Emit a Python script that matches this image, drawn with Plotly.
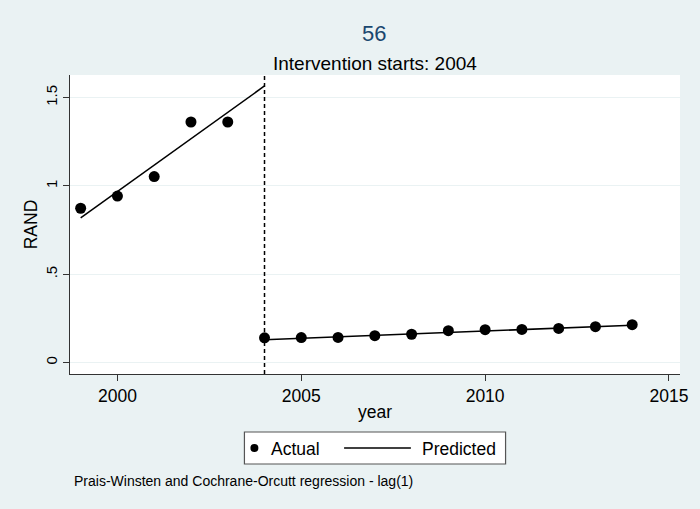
import plotly.graph_objects as go

pre_years = [1999, 2000, 2001, 2002, 2003]
pre_actual = [0.874, 0.943, 1.053, 1.362, 1.362]
post_years = [2004, 2005, 2006, 2007, 2008, 2009, 2010, 2011, 2012, 2013, 2014]
post_actual = [0.141, 0.142, 0.143, 0.153, 0.161, 0.181, 0.187, 0.188, 0.194, 0.204, 0.215]
pre_pred_years = [1999, 2004]
pre_pred = [0.82, 1.566]
post_pred_years = [2004, 2014]
post_pred = [0.130, 0.212]
intervention_year = 2004
y_ticks = [0, 0.5, 1, 1.5]
y_tick_labels = ["0", ".5", "1", "1.5"]
x_ticks = [2000, 2005, 2010, 2015]
legend_labels = ["Actual", "Predicted"]

FONT = "Liberation Sans, Arial, sans-serif"
BG = "#eaf2f3"
W, H = 700, 509
ML, MR, MT, MB = 70, 18, 75, 135
PW, PH = W - ML - MR, H - MT - MB


def px(xp, yp):
    """pixel position on the page -> paper coordinates"""
    return (xp - ML) / PW, (H - MB - yp) / PH


fig = go.Figure()
fig.add_trace(go.Scatter(x=pre_years + post_years, y=pre_actual + post_actual,
                         mode="markers", name=legend_labels[0],
                         marker=dict(color="black", size=11)))
fig.add_trace(go.Scatter(x=pre_pred_years, y=pre_pred, mode="lines", name=legend_labels[1],
                         line=dict(color="black", width=1.5)))
fig.add_trace(go.Scatter(x=post_pred_years, y=post_pred, mode="lines", name=legend_labels[1],
                         line=dict(color="black", width=1.5)))

fig.add_shape(type="line", xref="x", yref="paper", x0=intervention_year, x1=intervention_year,
              y0=0, y1=1, line=dict(color="black", width=1.5, dash="4px,3px"))

# hand-drawn legend (Stata style)
x0, y0 = px(245, 432)
x1, y1 = px(507, 464)
fig.add_shape(type="rect", xref="paper", yref="paper", x0=x0, x1=x1, y0=y0, y1=y1,
              fillcolor="white", line=dict(color="#555555", width=1.2))
cx0, cy0 = px(251, 444)
cx1, cy1 = px(259, 452)
fig.add_shape(type="circle", xref="paper", yref="paper", x0=cx0, x1=cx1, y0=cy0, y1=cy1,
              fillcolor="black", line=dict(color="black", width=0))
lx0, ly = px(345, 448)
lx1, _ = px(412, 448)
fig.add_shape(type="line", xref="paper", yref="paper", x0=lx0, x1=lx1, y0=ly, y1=ly,
              line=dict(color="black", width=1.5))

annotations = []
ax, ay = px(375, 33)
annotations.append(dict(text="56", x=ax, y=ay, font=dict(size=22, color="#1a476f")))
ax, ay = px(376, 63)
annotations.append(dict(text="Intervention starts: 2004", x=ax, y=ay, font=dict(size=19)))
ax, ay = px(72, 481)
annotations.append(dict(text="Prais-Winsten and Cochrane-Orcutt regression - lag(1)",
                        x=ax, y=ay, xanchor="left", font=dict(size=14)))
ax, ay = px(270, 449)
annotations.append(dict(text=legend_labels[0], x=ax, y=ay, xanchor="left", font=dict(size=17.5)))
ax, ay = px(421, 449)
annotations.append(dict(text=legend_labels[1], x=ax, y=ay, xanchor="left", font=dict(size=17.5)))
for a in annotations:
    a.update(xref="paper", yref="paper", showarrow=False, yanchor="middle")
    a.setdefault("xanchor", "center")

fig.update_layout(
    width=W, height=H,
    paper_bgcolor=BG, plot_bgcolor="white",
    margin=dict(l=ML, r=MR, t=MT, b=MB),
    font=dict(family=FONT, color="black", size=14),
    showlegend=False,
    annotations=annotations,
)

fig.update_xaxes(range=[1998.71, 2015.30], tickvals=x_ticks, ticks="outside", ticklen=6,
                 tickcolor="#333333", showline=True, linecolor="#333333", linewidth=1.2,
                 showgrid=False, zeroline=False, tickfont=dict(size=17.5),
                 title=dict(text="year", font=dict(size=17.5), standoff=0))
fig.update_yaxes(range=[-0.064, 1.628], tickvals=y_ticks, ticktext=y_tick_labels,
                 tickangle=-90, ticks="outside", ticklen=6, tickcolor="#333333",
                 showline=True, linecolor="#333333", linewidth=1.2,
                 showgrid=True, gridcolor=BG, gridwidth=1, zeroline=False,
                 tickfont=dict(size=15), ticklabelstandoff=0,
                 title=dict(text="RAND", font=dict(size=17.5), standoff=0))

fig.write_html("out.html", config={"displayModeBar": False},
               post_script="document.body.style.margin='0';document.body.style.overflow='hidden';")
